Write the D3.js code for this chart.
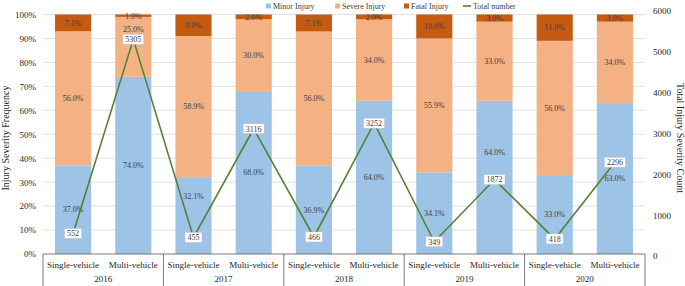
<!DOCTYPE html>
<html>
<head>
<meta charset="utf-8">
<script src="https://cdn.jsdelivr.net/npm/d3@7"></script>
<style>
  body { margin: 0; background: #fff; }
  text { font-family: "Liberation Serif", "Times New Roman", serif; }
</style>
</head>
<body>
<svg width="685" height="286"></svg>
<script>
// chart data
var years = ["2016", "2017", "2018", "2019", "2020"];
var types = ["Single-vehicle", "Multi-vehicle"];
var minor  = [37.0, 74.0, 32.1, 68.0, 36.9, 64.0, 34.1, 64.0, 33.0, 63.0];
var severe = [56.0, 25.0, 58.9, 30.0, 56.0, 34.0, 55.9, 33.0, 56.0, 34.0];
var fatal  = [7.1, 1.0, 9.0, 2.0, 7.1, 2.0, 10.0, 3.0, 11.0, 3.0];
var totals = [552, 5305, 455, 3116, 466, 3252, 349, 1872, 418, 2296];
var leftTicks = [0, 10, 20, 30, 40, 50, 60, 70, 80, 90, 100];
var rightTicks = [0, 1000, 2000, 3000, 4000, 5000, 6000];

var svg = d3.select("svg"),
    margin = {top: 14.5, right: 40, bottom: 32, left: 43},
    width = +svg.attr("width") - margin.left - margin.right,
    height = +svg.attr("height") - margin.top - margin.bottom;

var keys = [];
years.forEach(function(y) { types.forEach(function(t) { keys.push(y + "|" + t); }); });

var rows = keys.map(function(k, i) {
    return {key: k, minor: minor[i], severe: severe[i], fatal: fatal[i], total: totals[i]};
});

var x = d3.scaleBand().domain(keys).range([0, width]).paddingInner(0.4).paddingOuter(0.2),
    y = d3.scaleLinear().domain([0, 100]).range([height, 0]),
    // secondary axis in the source is drawn slightly taller than the primary one
    y2 = d3.scaleLinear().domain([0, 6000]).range([height + 2, -3.5]);

var colors = {minor: "#9DC3E6", severe: "#F4B183", fatal: "#C55A11"};
var names = {minor: "Minor Injury", severe: "Severe Injury", fatal: "Fatal Injury"};

// labels that were moved by hand in the original to avoid the line labels (px)
var nudge = {"2016|Multi-vehicle|severe": -18, "2017|Single-vehicle|minor": -19, "2019|Multi-vehicle|minor": -25};

var g = svg.append("g")
    .attr("transform", "translate(" + margin.left + "," + margin.top + ")");

// gridlines
g.selectAll(".grid").data(leftTicks.slice(1)).enter().append("line")
    .attr("x1", 0).attr("x2", width)
    .attr("y1", function(d) { return y(d); })
    .attr("y2", function(d) { return y(d); })
    .style("stroke", "#D9D9D9").style("stroke-width", 0.8);

// stacked bars
var stack = d3.stack().keys(["minor", "severe", "fatal"]);
var series = stack(rows);

var layer = g.selectAll(".layer").data(series).enter().append("g")
    .style("fill", function(d) { return colors[d.key]; });

layer.selectAll("rect").data(function(d) { return d; }).enter().append("rect")
    .attr("x", function(d) { return x(d.data.key); })
    .attr("width", x.bandwidth())
    .attr("y", function(d) { return y(Math.min(100, d[1])); })
    .attr("height", function(d) { return y(d[0]) - y(Math.min(100, d[1])); });

// segment labels
series.forEach(function(s) {
    g.selectAll(".lab-" + s.key).data(s).enter().append("text")
        .attr("x", function(d) { return x(d.data.key) + x.bandwidth() / 2; })
        .attr("y", function(d) {
            return y((d[0] + Math.min(100, d[1])) / 2) + (nudge[d.data.key + "|" + s.key] || 0);
        })
        .attr("dy", "0.35em")
        .attr("text-anchor", "middle")
        .style("font-size", "8px")
        .style("fill", "#404040")
        .text(function(d) { return d.data[s.key].toFixed(1) + "%"; });
});

// total line
var line = d3.line()
    .x(function(d) { return x(d.key) + x.bandwidth() / 2; })
    .y(function(d) { return y2(d.total); });

g.append("path").datum(rows)
    .attr("d", line)
    .style("fill", "none")
    .style("stroke", "#548235")
    .style("stroke-width", 1.6);

var tl = g.selectAll(".tl").data(rows).enter().append("g")
    .attr("transform", function(d) {
        return "translate(" + (x(d.key) + x.bandwidth() / 2) + "," + y2(d.total) + ")";
    });
tl.append("rect")
    .attr("x", function(d) { return -String(d.total).length * 2 - 2.5; })
    .attr("y", -5)
    .attr("width", function(d) { return String(d.total).length * 4 + 5; })
    .attr("height", 10)
    .style("fill", "#fff").style("stroke", "#BFBFBF").style("stroke-width", 0.5);
tl.append("text")
    .attr("text-anchor", "middle").attr("dy", "0.35em")
    .style("font-size", "8px").style("fill", "#404040")
    .text(function(d) { return d.total; });

// left axis
g.append("g")
    .call(d3.axisLeft(y).tickValues(leftTicks).tickSize(0).tickPadding(7)
        .tickFormat(function(d) { return d + "%"; }))
    .call(function(a) { a.select(".domain").remove(); })
    .selectAll("text").style("font-size", "9px").style("fill", "#262626")
    .style("font-family", "Liberation Serif");

// right axis
g.append("g")
    .attr("transform", "translate(" + width + ",0)")
    .call(d3.axisRight(y2).tickValues(rightTicks).tickSize(0).tickPadding(8)
        .tickFormat(d3.format("d")))
    .call(function(a) { a.select(".domain").remove(); })
    .selectAll("text").style("font-size", "9px").style("fill", "#262626")
    .style("font-family", "Liberation Serif");

// category axis (two levels)
var cat = g.append("g").attr("transform", "translate(0," + height + ")");
cat.append("line").attr("x1", 0).attr("x2", width)
    .style("stroke", "#595959").style("stroke-width", 0.8);
var groupW = width / years.length;
d3.range(years.length + 1).forEach(function(i) {
    cat.append("line")
        .attr("x1", i * groupW).attr("x2", i * groupW)
        .attr("y1", 0).attr("y2", margin.bottom)
        .style("stroke", "#595959").style("stroke-width", 0.8);
});
cat.selectAll(".t1").data(keys).enter().append("text")
    .attr("x", function(d) { return x(d) + x.bandwidth() / 2; })
    .attr("y", 11)
    .attr("dy", "0.35em")
    .attr("text-anchor", "middle")
    .style("font-size", "9px").style("fill", "#262626")
    .text(function(d) { return d.split("|")[1]; });
cat.selectAll(".t2").data(years).enter().append("text")
    .attr("x", function(d, i) { return (i + 0.5) * groupW; })
    .attr("y", 25)
    .attr("dy", "0.35em")
    .attr("text-anchor", "middle")
    .style("font-size", "9px").style("fill", "#262626")
    .text(function(d) { return d; });

// axis titles
svg.append("text")
    .attr("transform", "translate(9,138) rotate(-90)")
    .attr("text-anchor", "middle")
    .style("font-size", "10px").style("fill", "#262626")
    .text("Injury Severity Frequency");
svg.append("text")
    .attr("transform", "translate(677,138) rotate(90)")
    .attr("text-anchor", "middle")
    .style("font-size", "10px").style("fill", "#262626")
    .text("Total Injury Severity Count");

// legend
var legend = svg.append("g").attr("transform", "translate(0,6)");
var lx = [266, 335, 404];
["minor", "severe", "fatal"].forEach(function(k, i) {
    legend.append("rect").attr("x", lx[i]).attr("y", -2.5).attr("width", 5).attr("height", 5)
        .style("fill", colors[k]);
    legend.append("text").attr("x", lx[i] + 7).attr("dy", "0.35em")
        .style("font-size", "8px").style("fill", "#404040").text(names[k]);
});
legend.append("line").attr("x1", 463).attr("x2", 471)
    .style("stroke", "#548235").style("stroke-width", 1.6);
legend.append("text").attr("x", 473).attr("dy", "0.35em")
    .style("font-size", "8px").style("fill", "#404040").text("Total number");
</script>
</body>
</html>
